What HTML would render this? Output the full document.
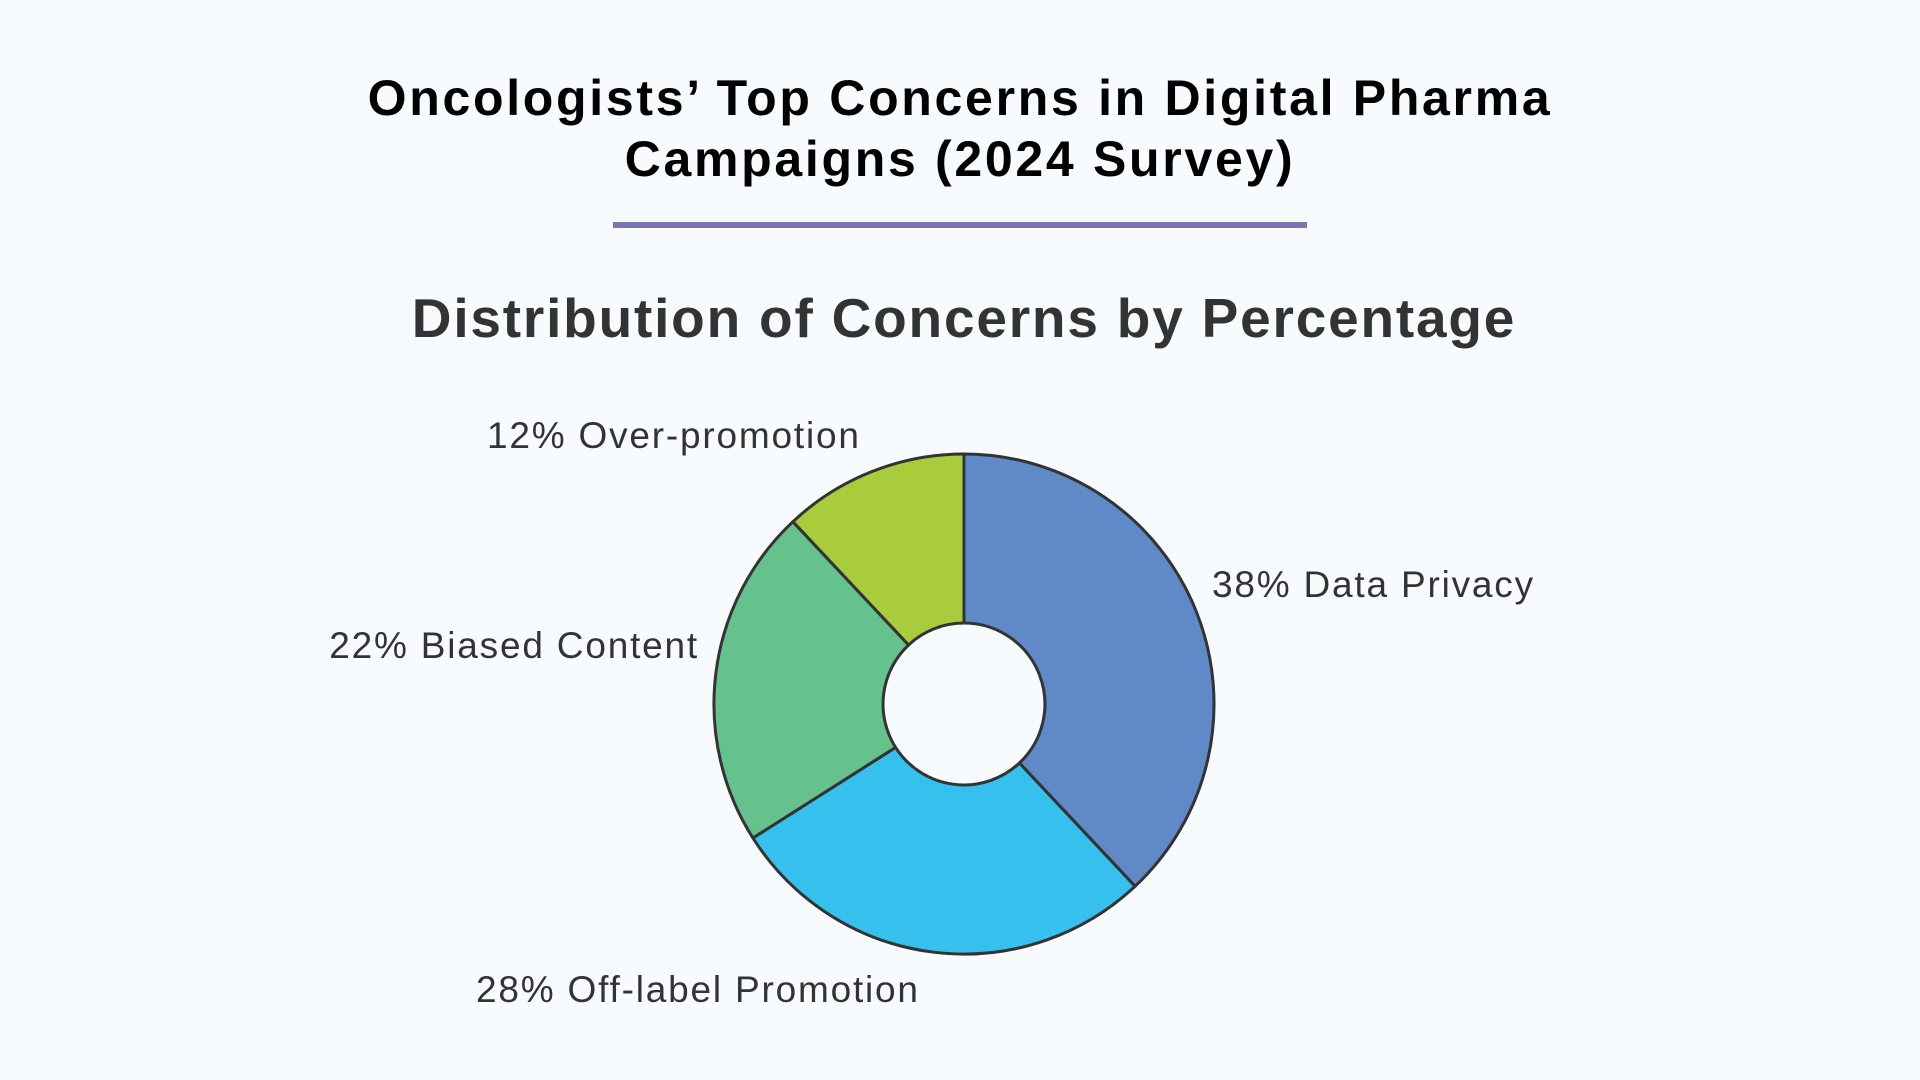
<!DOCTYPE html>
<html><head><meta charset="utf-8"><style>
html,body{margin:0;padding:0;background:#f7fbfe;}
body{width:1920px;height:1080px;overflow:hidden;position:relative;font-family:"Liberation Sans",sans-serif;}
.t{position:absolute;left:0;width:1920px;text-align:center;font-weight:bold;color:#000;font-size:50px;line-height:60px;letter-spacing:2.7px;}
</style></head><body>
<div class="t" style="top:68px">Oncologists’ Top Concerns in Digital Pharma</div>
<div class="t" style="top:129px">Campaigns (2024 Survey)</div>
<div style="position:absolute;left:613px;top:222px;width:694px;height:6px;background:#7f72b3"></div>
<svg width="1920" height="1080" style="position:absolute;left:0;top:0">
<text x="964" y="337" text-anchor="middle" font-family="Liberation Sans" font-weight="bold" font-size="55" fill="#333" letter-spacing="1.8">Distribution of Concerns by Percentage</text>
<g stroke="#333" stroke-width="3" stroke-linejoin="round">
<path d="M964,454 A250,250 0 0 1 1135.1,886.3 L1019.4,763 A81,81 0 0 0 964,623 Z" fill="#6089c8"/>
<path d="M1135.1,886.3 A250,250 0 0 1 752.9,838 L895.6,747.4 A81,81 0 0 0 1019.4,763 Z" fill="#36c0ee"/>
<path d="M752.9,838 A250,250 0 0 1 792.9,521.7 L908.6,645 A81,81 0 0 0 895.6,747.4 Z" fill="#66c28c"/>
<path d="M792.9,521.7 A250,250 0 0 1 964,454 L964,623 A81,81 0 0 0 908.6,645 Z" fill="#a8cc3c"/>
</g>
<g font-family="Liberation Sans" font-size="37" fill="#333" letter-spacing="1.8">
<text x="487" y="448">12% Over-promotion</text>
<text x="1212" y="597">38% Data Privacy</text>
<text x="699" y="658" text-anchor="end">22% Biased Content</text>
<text x="476" y="1002">28% Off-label Promotion</text>
</g>
</svg>
</body></html>
